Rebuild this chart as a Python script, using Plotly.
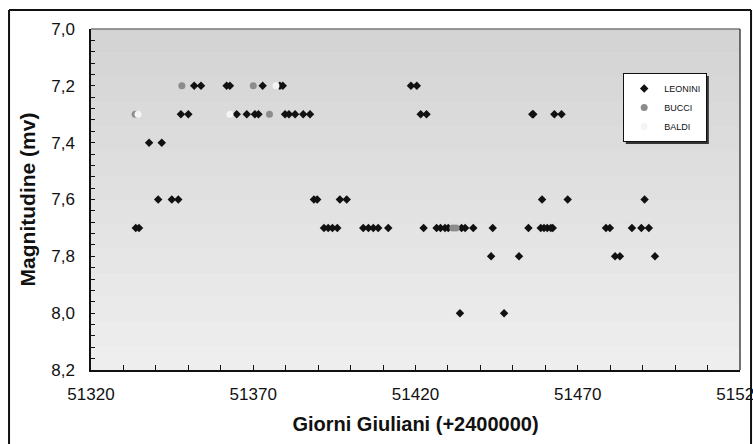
import plotly.graph_objects as go

# ---- data ----
leonini_x = [
    51351.8, 51353.9, 51361.8, 51362.8, 51372.9, 51378.2, 51379.1, 51418.6, 51420.4,            # 7.2
    51347.7, 51350.0, 51364.9, 51368.0, 51370.5, 51371.6, 51379.8, 51381.0, 51382.9,
    51385.4, 51387.5, 51421.6, 51423.4, 51456.0, 51456.3, 51462.8, 51465.0,                      # 7.3
    51337.9, 51341.8,                                                                              # 7.4
    51340.7, 51344.9, 51346.9, 51388.7, 51389.7, 51396.7, 51398.8, 51459.0, 51466.9, 51490.6,    # 7.6
    51333.8, 51334.8, 51391.8, 51393.1, 51394.4, 51395.9, 51403.9, 51405.5, 51407.0, 51408.5,
    51411.6, 51422.5, 51426.5, 51427.7, 51429.1, 51430.1, 51434.2, 51435.3, 51437.8, 51443.8,
    51454.8, 51458.6, 51459.6, 51460.6, 51461.7, 51462.3, 51478.7, 51479.9, 51486.7, 51489.6,
    51491.9,                                                                                       # 7.7
    51443.3, 51451.9, 51481.5, 51483.0, 51493.8,                                                   # 7.8
    51433.7, 51447.3,                                                                              # 8.0
]
leonini_y = (
    [7.2] * 9
    + [7.3] * 17
    + [7.4] * 2
    + [7.6] * 10
    + [7.7] * 31
    + [7.8] * 5
    + [8.0] * 2
)

bucci_x = [51348.0, 51370.0, 51333.6, 51375.0, 51431.5, 51432.5]
bucci_y = [7.2, 7.2, 7.3, 7.3, 7.7, 7.7]

baldi_x = [51334.5, 51362.8, 51377.0]
baldi_y = [7.3, 7.3, 7.2]

y_ticks = [7.0, 7.2, 7.4, 7.6, 7.8, 8.0, 8.2]
x_ticks = [51320, 51370, 51420, 51470, 51520]

FONT = "Liberation Sans, Arial, sans-serif"

fig = go.Figure()
fig.add_trace(go.Scatter(x=leonini_x, y=leonini_y, mode="markers", name="LEONINI",
                         marker=dict(symbol="diamond", size=6.5, color="#111111")))
fig.add_trace(go.Scatter(x=bucci_x, y=bucci_y, mode="markers", name="BUCCI",
                         marker=dict(symbol="circle", size=7, color="#8c8c8c")))
fig.add_trace(go.Scatter(x=baldi_x, y=baldi_y, mode="markers", name="BALDI",
                         marker=dict(symbol="circle", size=7, color="#f4f4f4")))

# plot-area background (scanned gradient: darker top, lighter bottom)
shapes = []
n = 14
for i in range(n):
    t = i / (n - 1)
    c = int(0xd4 + (0xee - 0xd4) * t)
    shapes.append(dict(type="rect", xref="paper", yref="paper", layer="below",
                       x0=0, x1=1, y0=1 - (i + 1) / n, y1=1 - i / n,
                       fillcolor=f"rgb({c},{c},{c})", line=dict(width=0)))
# top and right border of the plot area (gray)
shapes.append(dict(type="line", xref="paper", yref="paper", x0=0, x1=1, y0=1, y1=1,
                   line=dict(color="#777777", width=1.5)))
shapes.append(dict(type="line", xref="paper", yref="paper", x0=1, x1=1, y0=0, y1=1,
                   line=dict(color="#444444", width=1.5)))
# outer frame of the figure
shapes.append(dict(type="line", xref="paper", yref="paper", x0=-0.1263, x1=-0.1263, y0=-0.4, y1=1.056,
                   line=dict(color="#111111", width=2)))
shapes.append(dict(type="line", xref="paper", yref="paper", x0=-0.1263, x1=1.017, y0=1.056, y1=1.056,
                   line=dict(color="#111111", width=2)))
shapes.append(dict(type="line", xref="paper", yref="paper", x0=1.017, x1=1.017, y0=-0.4, y1=1.056,
                   line=dict(color="#111111", width=2)))
# legend shadow
shapes.append(dict(type="rect", xref="paper", yref="paper",
                   x0=0.824, x1=0.952, y0=0.663, y1=0.862,
                   fillcolor="#333333", line=dict(width=0)))

fig.update_layout(
    width=753, height=444,
    margin=dict(l=91, r=13, t=29, b=74, autoexpand=False),
    paper_bgcolor="white",
    plot_bgcolor="#e0e0e0",
    separators=",.",
    font=dict(family=FONT, color="#111111"),
    shapes=shapes,
    legend=dict(x=0.82, y=0.871, xanchor="left", yanchor="top",
                bgcolor="white", bordercolor="#111111", borderwidth=1,
                font=dict(size=9, family=FONT), itemwidth=30,
                tracegroupgap=0),
    showlegend=True,
)

fig.update_xaxes(
    range=[51320, 51520], tickvals=x_ticks, tickformat="d",
    automargin=False,
    showgrid=False, zeroline=False,
    showline=True, linecolor="#111111", linewidth=1.5,
    ticks="inside", ticklen=5, tickcolor="#111111",
    minor=dict(dtick=10, ticks="inside", ticklen=5, tickcolor="#111111", showgrid=False),
    tickfont=dict(size=17, family=FONT),
    ticklabelstandoff=8, ticklabeloverflow="allow",
    title=dict(text="<b>Giorni Giuliani (+2400000)</b>", font=dict(size=20, family=FONT), standoff=14),
)
fig.update_yaxes(
    range=[8.2, 7.0], tickvals=y_ticks, tickformat=".1f",
    automargin=False,
    showgrid=False, zeroline=False,
    showline=True, linecolor="#111111", linewidth=1.5,
    ticks="inside", ticklen=4, tickcolor="#111111",
    minor=dict(dtick=0.04, tick0=7.0, ticks="inside", ticklen=4, tickcolor="#111111", showgrid=False),
    tickfont=dict(size=17, family=FONT),
    ticklabelstandoff=11,
    title=dict(text="<b>Magnitudine (mv)</b>", font=dict(size=21, family=FONT), standoff=10),
)

# remove the default 8px page margin so the 753x444 figure fills the window exactly
fig.write_html(
    "out.html",
    config={"displayModeBar": False},
    post_script="document.body.style.margin='0';document.documentElement.style.overflow='hidden';",
)
